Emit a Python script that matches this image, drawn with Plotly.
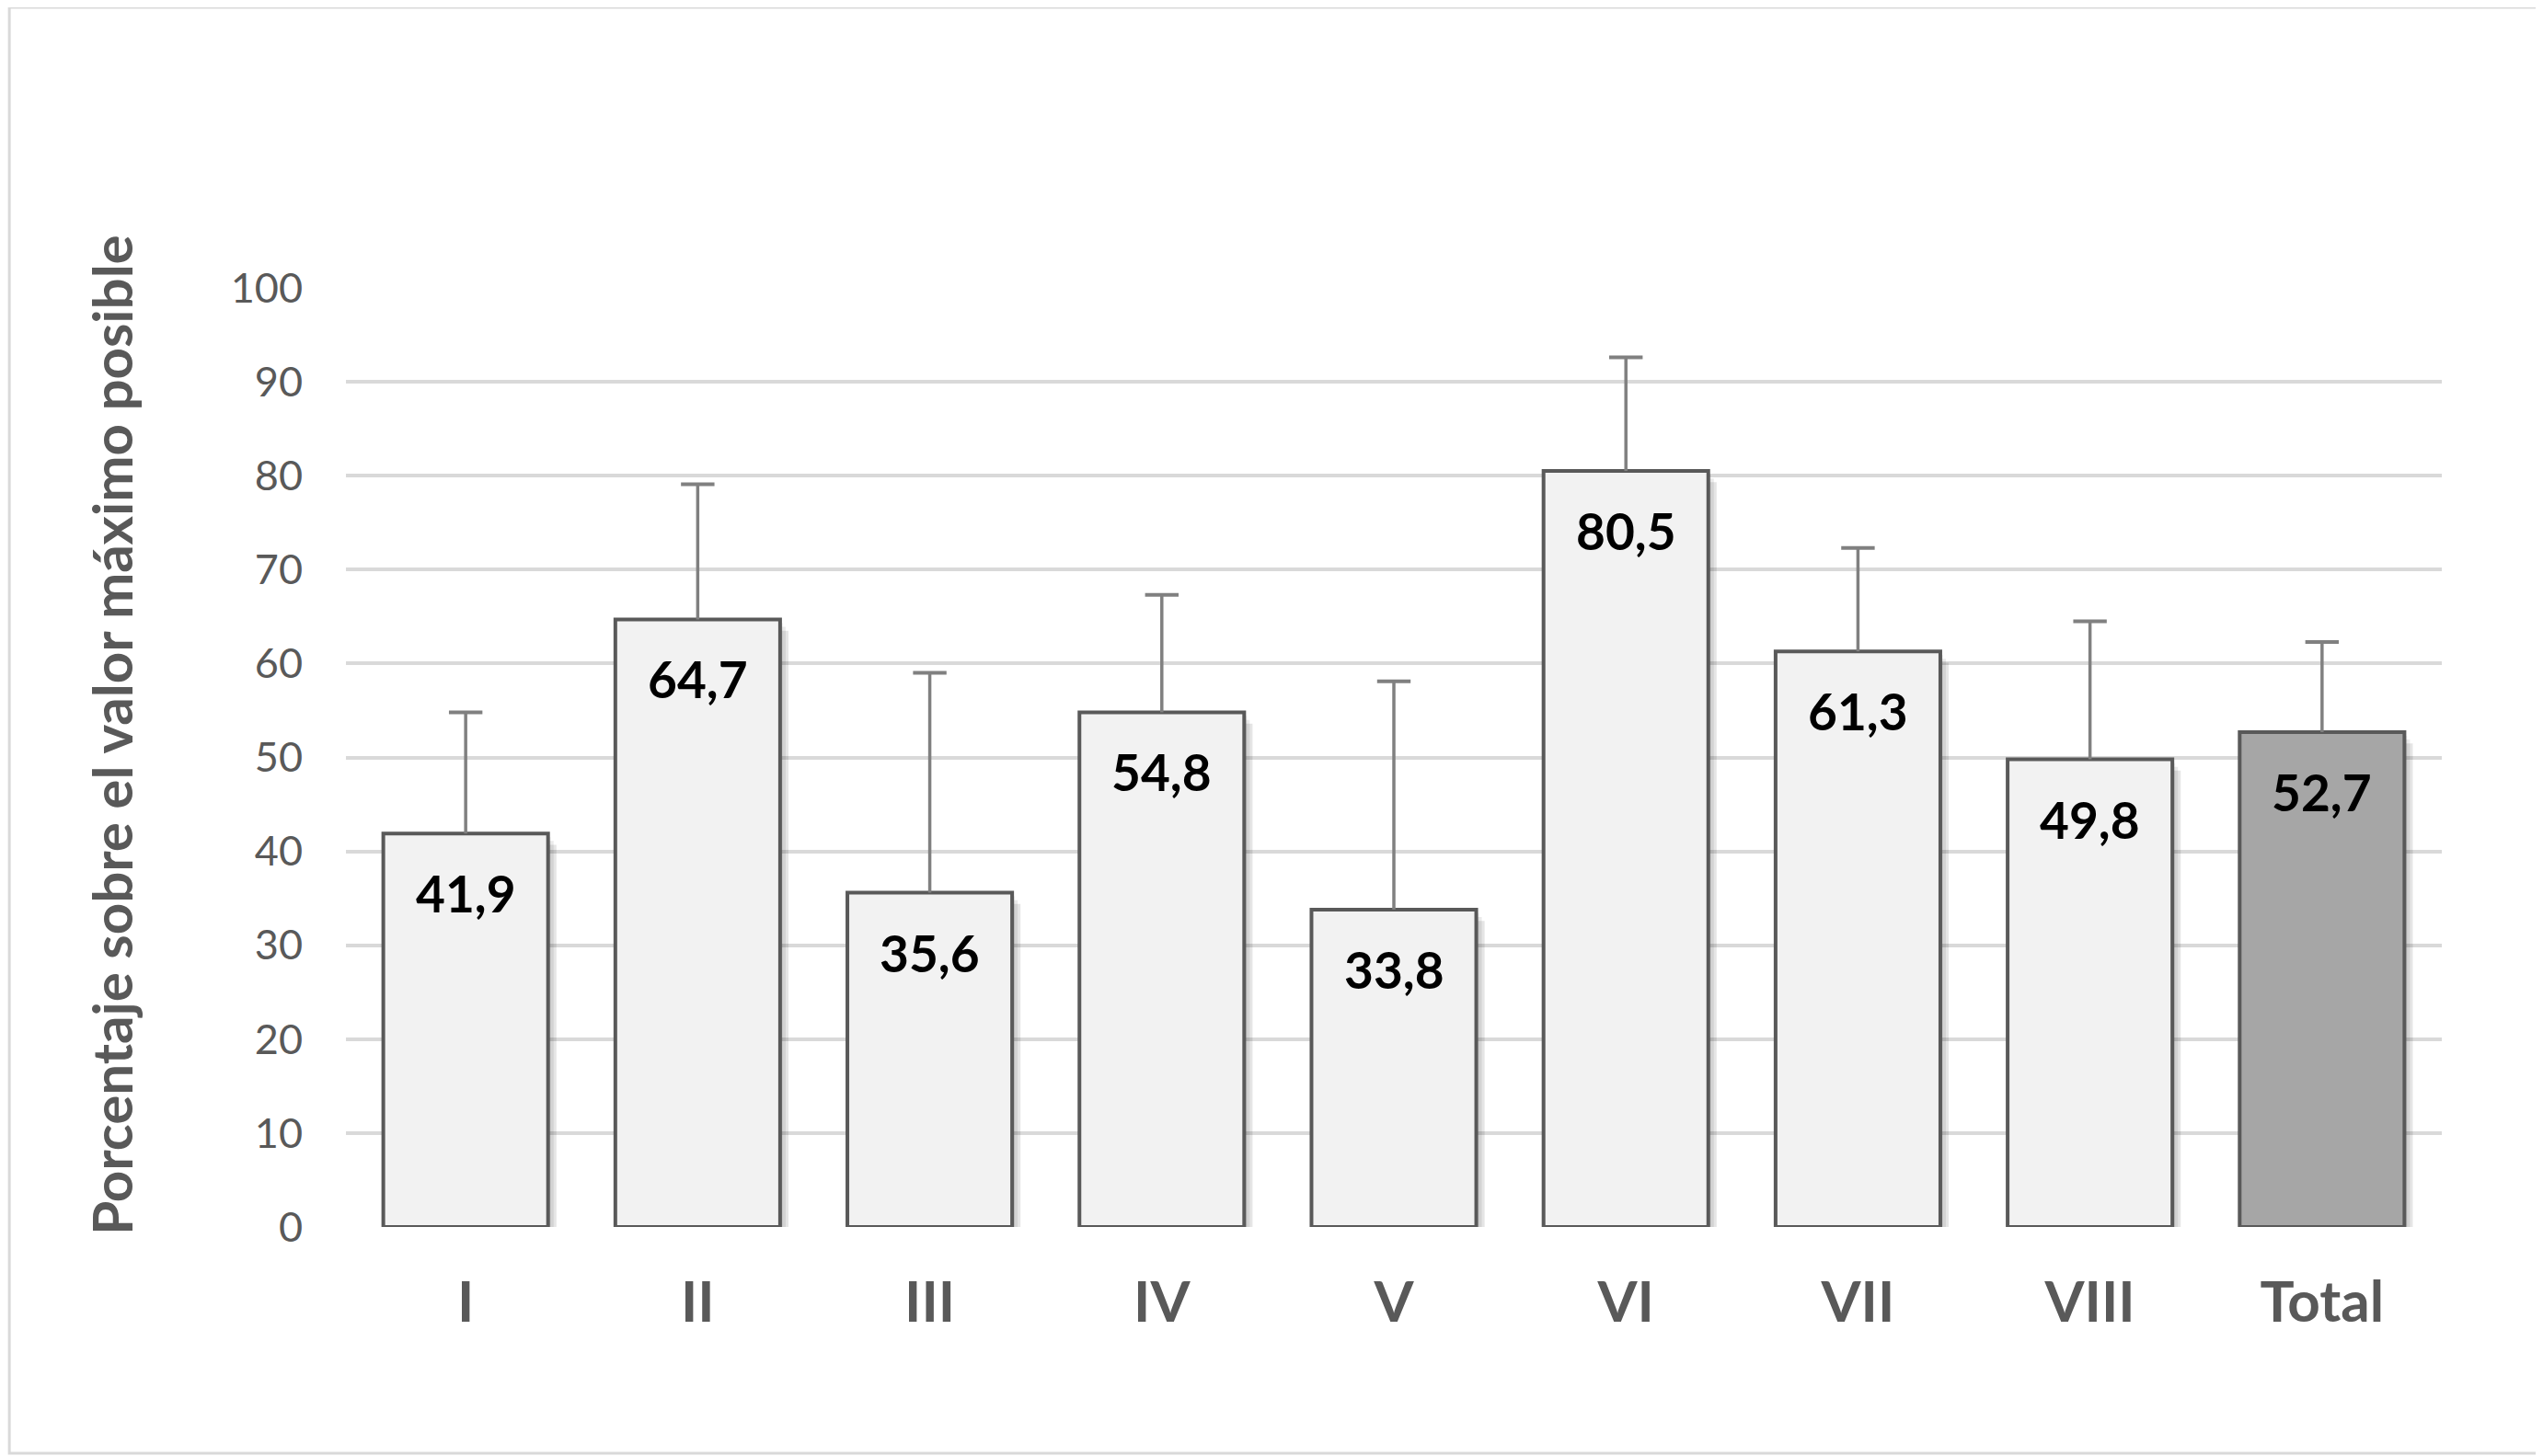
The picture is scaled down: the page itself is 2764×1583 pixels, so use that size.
import plotly.graph_objects as go

# chart data
categorias = ["I", "II", "III", "IV", "V", "VI", "VII", "VIII", "Total"]
valores = [41.9, 64.7, 35.6, 54.8, 33.8, 80.5, 61.3, 49.8, 52.7]
desv = [12.9, 14.4, 23.4, 12.5, 24.3, 12.1, 11.0, 14.7, 9.6]
y_ticks = [0, 10, 20, 30, 40, 50, 60, 70, 80, 90, 100]

FONT = "Lato"
GRIS = "#595959"

colores = ["#f2f2f2"] * (len(categorias) - 1) + ["#a6a6a6"]
etiquetas = [f"{v:.1f}".replace(".", ",") for v in valores]

fig = go.Figure()

# soft shadow behind the bars
for k, alpha in enumerate([0.06, 0.08, 0.10]):
    fig.add_trace(go.Bar(
        x=categorias, y=valores, base=-0.4 * (k + 1),
        width=0.71, offset=-0.355 + 0.012 * (k + 1),
        marker=dict(color=f"rgba(0,0,0,{alpha})", line=dict(width=0)),
        hoverinfo="skip", showlegend=False,
    ))

fig.add_trace(go.Bar(
    x=categorias, y=valores, width=0.71,
    marker=dict(color=colores, line=dict(color=GRIS, width=4)),
    showlegend=False,
))

# upper error bars only
ex, ey = [], []
for c, v, d in zip(categorias, valores, desv):
    ex += [c, c, None]
    ey += [v, v + d, None]
fig.add_trace(go.Scatter(
    x=ex, y=ey, mode="lines", line=dict(color="#808080", width=3.5),
    hoverinfo="skip", showlegend=False,
))
fig.add_trace(go.Scatter(
    x=categorias, y=[v + d for v, d in zip(valores, desv)], mode="markers",
    marker=dict(symbol="line-ew", size=26, line=dict(color="#808080", width=4)),
    hoverinfo="skip", showlegend=False,
))

for c, v, t in zip(categorias, valores, etiquetas):
    fig.add_annotation(x=c, y=v, text=f"<b>{t}</b>", showarrow=False,
                       yanchor="middle", yshift=-65,
                       font=dict(family=FONT, size=55, color="#000000"))

fig.add_annotation(
    x=-0.112, y=0.524, xref="paper", yref="paper", textangle=-90,
    xanchor="center", yanchor="middle",
    text="<b>Porcentaje sobre el valor máximo posible</b>", showarrow=False,
    font=dict(family=FONT, size=60, color=GRIS),
)

# outer frame
fig.add_shape(type="rect", xref="paper", yref="paper",
              x0=-0.1606, x1=1.0459, y0=-0.2409, y1=1.2988,
              line=dict(color="#d9d9d9", width=3), fillcolor="rgba(0,0,0,0)")

fig.update_layout(
    width=2764, height=1583,
    margin=dict(l=368, r=118, t=305, b=257),
    paper_bgcolor="white", plot_bgcolor="white",
    bargap=0.29, barmode="overlay",
    font=dict(family=FONT, color=GRIS),
)
fig.update_xaxes(
    showgrid=False, zeroline=False, showline=False,
    tickfont=dict(family=FONT, size=62, color=GRIS),
    tickprefix="<b>", ticksuffix="</b>",
    ticklabelstandoff=40,
)
fig.update_yaxes(
    range=[0, 100], tickvals=y_ticks,
    showgrid=True, gridcolor="#d9d9d9", gridwidth=3.5,
    zeroline=False, showline=False,
    tickfont=dict(family=FONT, size=45, color=GRIS),
    ticklabelstandoff=46,
)

fig.write_html("out.html")
